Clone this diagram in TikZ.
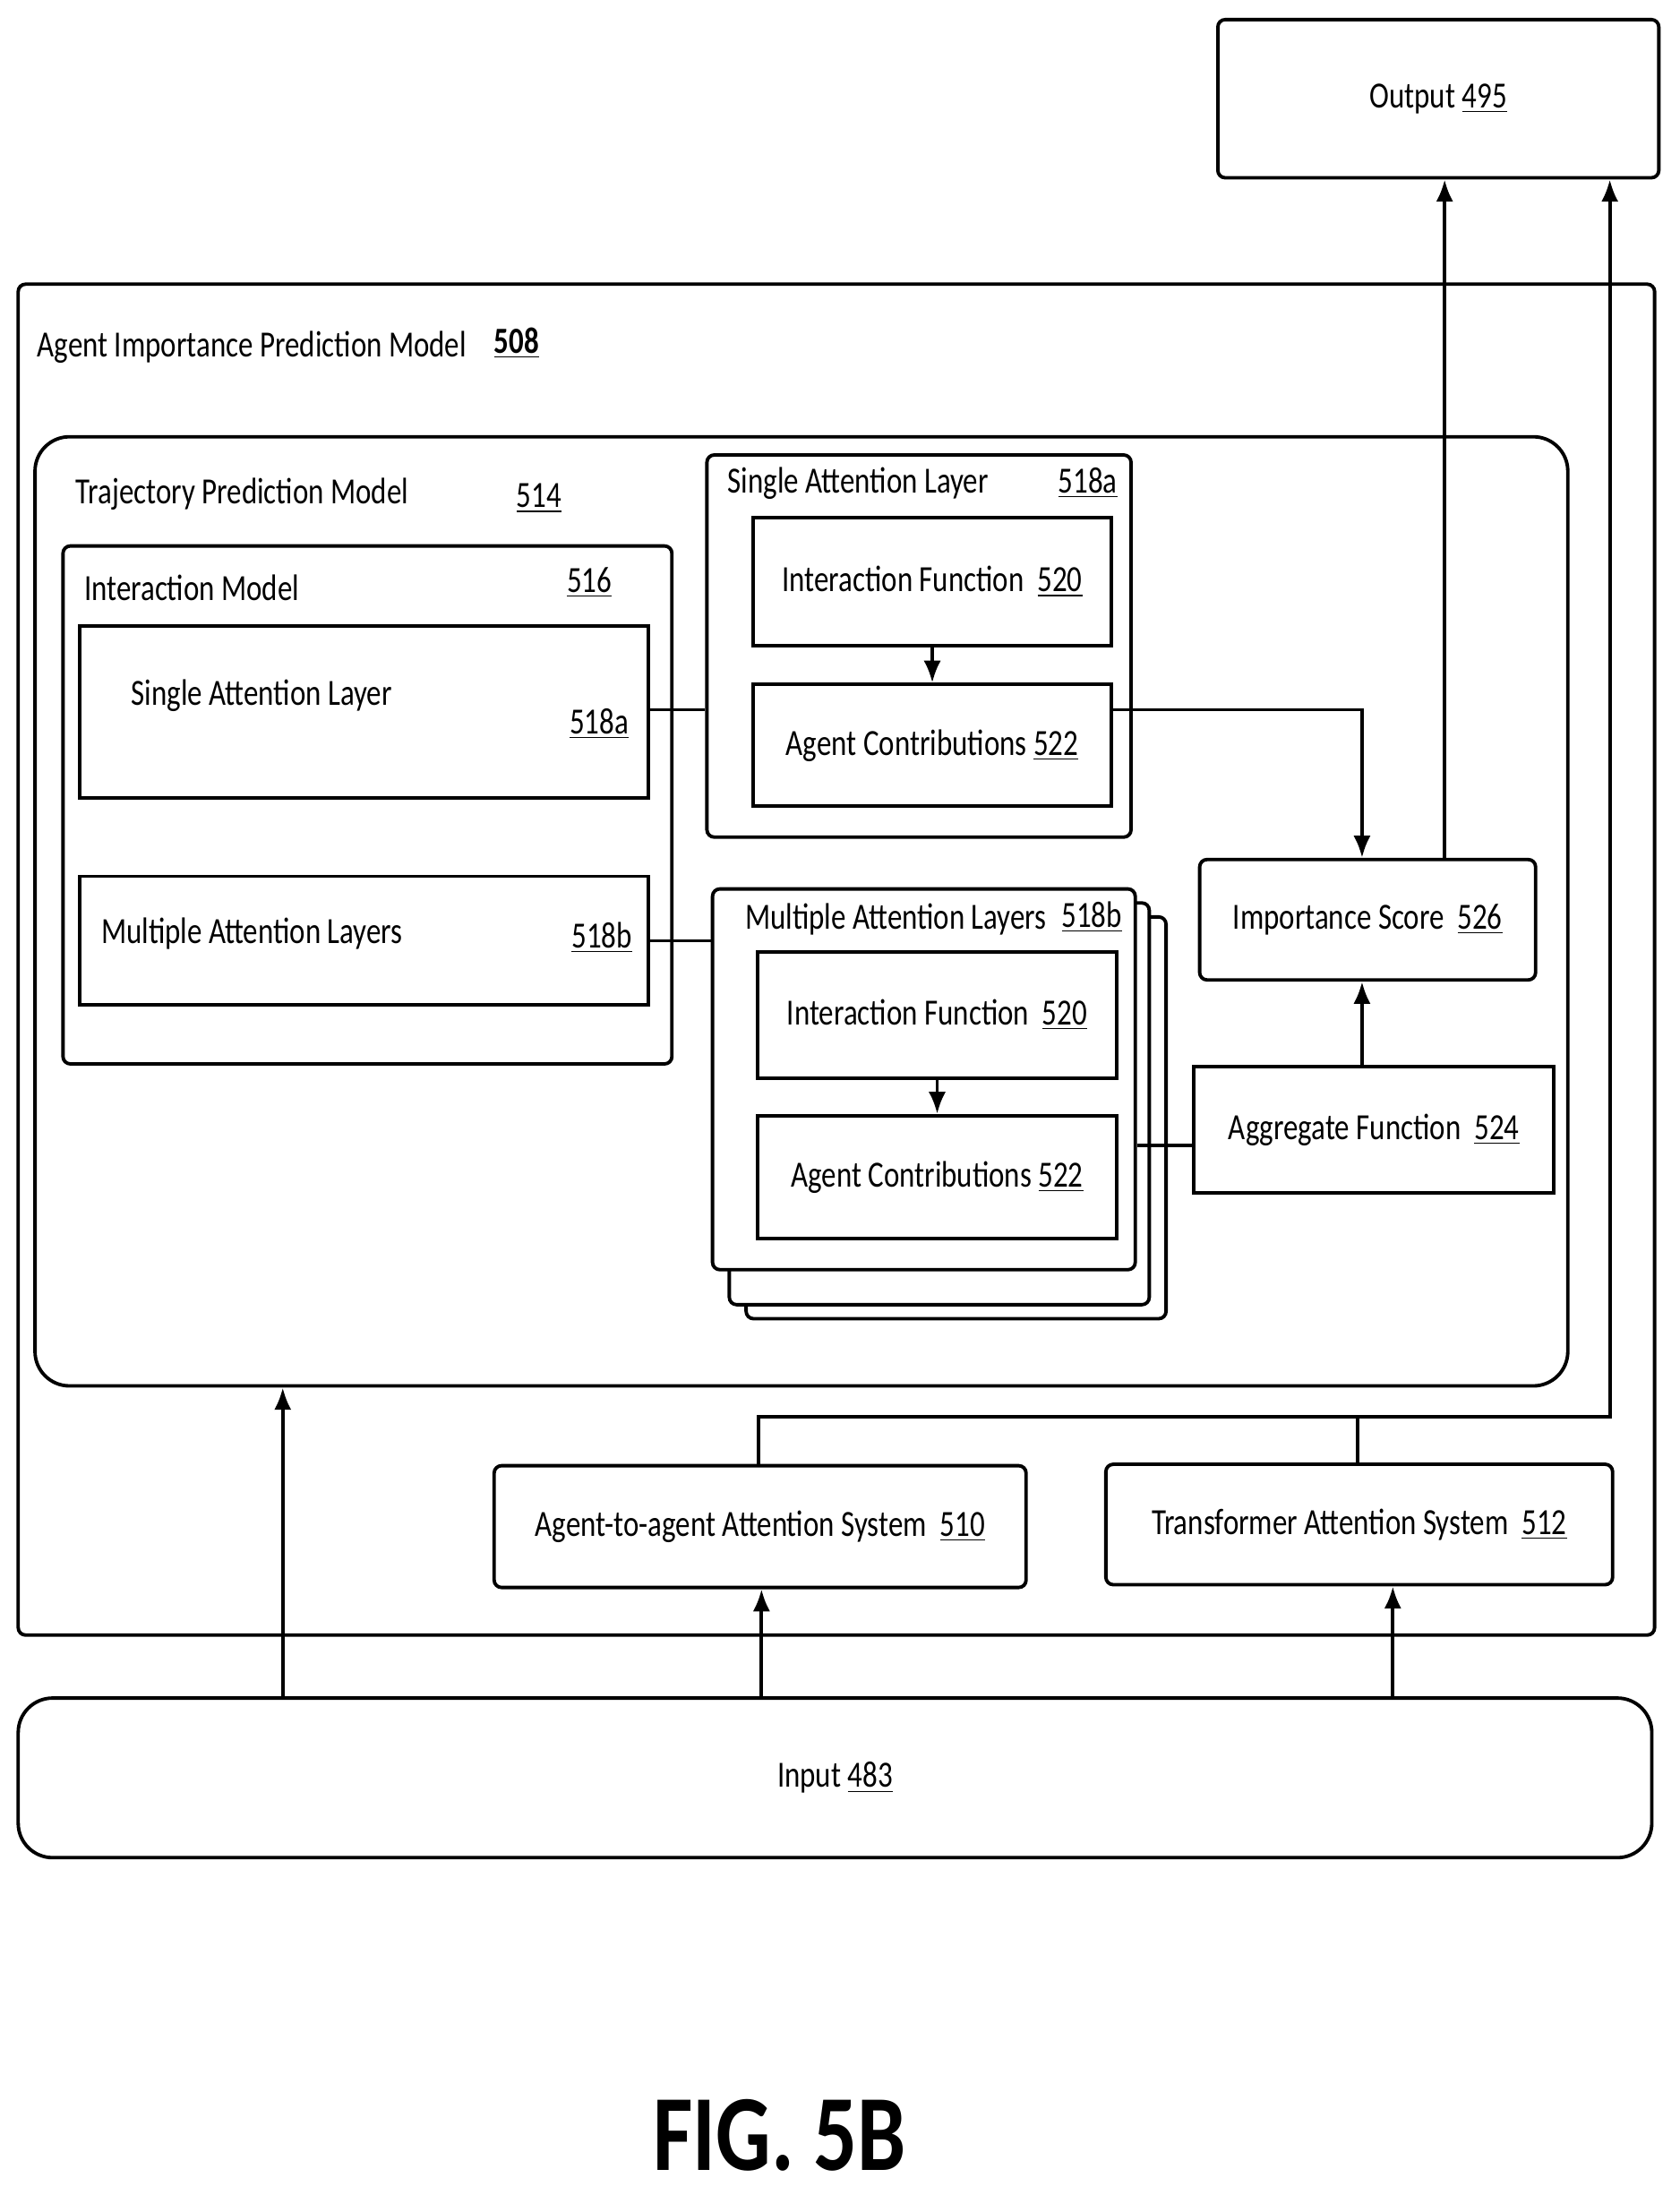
\documentclass[tikz,border=0pt]{standalone}
\usepackage{fontspec}
\setmainfont[FakeStretch=0.8]{Carlito}
\usetikzlibrary{fit,arrows.meta}
\tikzset{
  box/.style={draw,line width=1.4pt,inner sep=0pt,rounded corners=3pt},
  rbox/.style={box,rounded corners=14pt},
  lbl/.style={draw=none,inner sep=1pt,font=\fontsize{15}{17}\selectfont},
  arr/.style={line width=1.4pt,-{Latex[length=9pt,width=7pt]}},
  ln/.style={line width=1.4pt},
}
\newcommand{\ul}[1]{\underline{#1}}
\begin{document}
\begin{tikzpicture}[x=0.02cm,y=-0.02cm]
\useasboundingbox (0,0) rectangle (1200,1568);
% outer frames
\node[box,fit={(870,14) (1185,127)}] (out) {};
\node[lbl] at (out.center) {Output \ul{495}};
\node[box,fit={(13,203) (1182,1168)}] (aipm) {};
\node[lbl] at (180,248) {Agent Importance Prediction Model};
\node[lbl] at (369,245) {\textbf{\ul{508}}};
\node[rbox,fit={(25,312) (1120,990)}] (tpm) {};
\node[lbl] at (173,353) {Trajectory Prediction Model};
\node[lbl] at (385,356) {\ul{514}};
% interaction model
\node[box,fit={(45,390) (480,760)}] (im) {};
\node[lbl] at (137,420) {Interaction Model};
\node[lbl] at (421,416) {\ul{516}};
\node[box,rounded corners=0pt,fit={(57,447) (463,570)}] (sal) {};
\node[lbl] at (187,497) {Single Attention Layer};
\node[lbl] at (428,517) {\ul{518a}};
\node[box,rounded corners=0pt,fit={(57,626) (463,718)}] (mal) {};
\node[lbl] at (180,667) {Multiple Attention Layers};
\node[lbl] at (430,670) {\ul{518b}};
% single attention layer
\node[box,fit={(505,325) (808,598)}] (salb) {};
\node[lbl] at (613,345) {Single Attention Layer};
\node[lbl] at (777,345) {\ul{518a}};
\node[box,rounded corners=0pt,fit={(538,370) (794,461)}] (ifa) {};
\node[lbl] at (ifa.center) {Interaction Function~~\ul{520}};
\node[box,rounded corners=0pt,fit={(538,489) (794,576)}] (aca) {};
\node[lbl] at (aca.center) {Agent Contributions \ul{522}};
% multiple attention layers (stack)
\node[box,fill=white,fit={(533,655) (833,942)}] (mb3) {};
\node[box,fill=white,fit={(521,645) (821,932)}] (mb2) {};
\node[box,fill=white,fit={(509,635) (811,907)}] (malb) {};
\node[lbl] at (640,657) {Multiple Attention Layers};
\node[lbl] at (780,655) {\ul{518b}};
\node[box,rounded corners=0pt,fit={(541,680) (798,770)}] (ifb) {};
\node[lbl] at (ifb.center) {Interaction Function~~\ul{520}};
\node[box,rounded corners=0pt,fit={(541,797) (798,885)}] (acb) {};
\node[lbl] at (acb.center) {Agent Contributions \ul{522}};
% scores
\node[box,fit={(857,614) (1097,700)}] (imp) {};
\node[lbl] at (imp.center) {Importance Score~~\ul{526}};
\node[box,rounded corners=0pt,fit={(853,762) (1110,852)}] (agg) {};
\node[lbl] at (agg.center) {Aggregate Function~~\ul{524}};
% attention systems and input
\node[box,fit={(353,1047) (733,1134)}] (a2a) {};
\node[lbl] at (a2a.center) {Agent-to-agent Attention System~~\ul{510}};
\node[box,fit={(790,1046) (1152,1132)}] (tas) {};
\node[lbl] at (tas.center) {Transformer Attention System~~\ul{512}};
\node[rbox,fit={(13,1213) (1180,1327)}] (inp) {};
\node[lbl] at (inp.center) {Input \ul{483}};
\node[draw=none,font=\fontsize{44}{48}\selectfont\bfseries] (fig) at (557,1525) {FIG. 5B};
% connectors
\coordinate (j1) at (973,507);
\coordinate (j2) at (542,1012);
\coordinate (j3) at (1150,1012);
\coordinate (j4) at (970,1012);
\draw[ln] (sal.east |- 0,507) -- (salb.west |- 0,507);
\draw[ln] (mal.east |- 0,672) -- (malb.west |- 0,672);
\draw[arr] (ifa) -- (aca);
\draw[arr] (ifb) -- (acb);
\draw[arr] (aca.east |- j1) -- (j1) -- (imp.north -| j1);
\draw[arr] (agg.north -| j1) -- (imp.south -| j1);
\draw[ln] (malb.east |- 0,818) -- (agg.west |- 0,818);
\draw[arr] (imp.north -| 1032,0) -- (out.south -| 1032,0);
\draw[arr] (a2a.north -| j2) -- (j2) -- (j3) -- (out.south -| j3);
\draw[ln] (tas.north -| j4) -- (j4);
\draw[arr] (inp.north -| 202,0) -- (tpm.south -| 202,0);
\draw[arr] (inp.north -| 544,0) -- (a2a.south -| 544,0);
\draw[arr] (inp.north -| 995,0) -- (tas.south -| 995,0);
\end{tikzpicture}
\end{document}
